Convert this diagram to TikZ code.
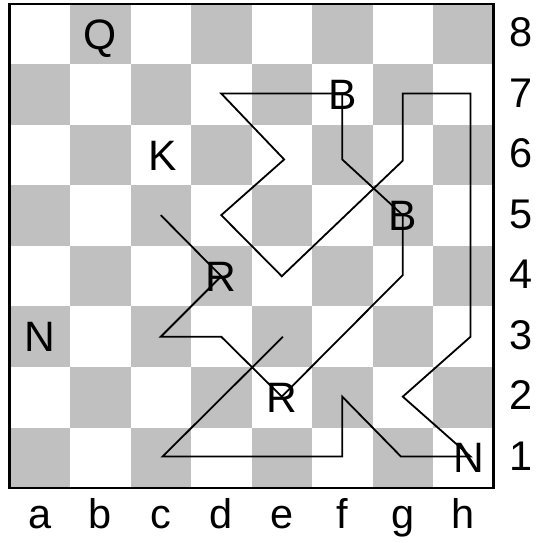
\documentclass[tikz,border=0pt]{standalone}
\usepackage{fontspec}
\setmainfont{Liberation Sans}
\usetikzlibrary{positioning}
\definecolor{boardgray}{RGB}{192,192,192}
\tikzset{
  darksq/.style={fill=boardgray},
  piece/.style={anchor=base, inner sep=0pt, yshift=-0.25cm,
                font=\fontsize{20}{20}\selectfont},
  boardlabel/.style={anchor=base, inner sep=0pt,
                font=\fontsize{19.5}{19.5}\selectfont},
  tour/.style={line width=0.85pt, color=black, line join=miter},
  frame/.style={line width=1.2pt, color=black},
}

\begin{document}
\begin{tikzpicture}
        \useasboundingbox (-0.157,-0.909) rectangle (8.711,8.066);
        % Squares
        \foreach \i in {0,...,7} {
          \foreach \j in {0,...,7} {
            \pgfmathparse{int(mod(\i+\j,2))}
            \ifnum\pgfmathresult=0
              \fill[darksq] (\i,\j) rectangle ++(1,1);
            \fi
          }
        }
        \draw[frame] (0,0) rectangle (8,8);
        
        % Labels
        \foreach \f [count=\n from 0] in {a,b,c,d,e,f,g,h}
          \node[boardlabel] (file\f) at (\n+0.5,-0.67) {\f};
        \foreach \r in {1,...,8}
          \node[boardlabel] (rank\r) at (8.46,\r-0.5-0.21) {\r};
        
        % Waypoints
        \coordinate (c5) at (2.5,4.51);
        \coordinate (d4) at (3.5,3.5);
        \coordinate (c3) at (2.5,2.5);
        \coordinate (d3) at (3.5,2.5);
        \coordinate (e2) at (4.5,1.51);
        \coordinate (g4) at (6.5,3.52);
        \coordinate (g5) at (6.5,4.51);
        \coordinate (f6) at (5.5,5.43);
        \coordinate (f7) at (5.5,6.52);
        \coordinate (d7) at (3.5,6.52);
        \coordinate (e6) at (4.54,5.43);
        \coordinate (d5) at (3.5,4.51);
        \coordinate (e4) at (4.5,3.5);
        \coordinate (g6) at (6.5,5.41);
        \coordinate (g7) at (6.5,6.52);
        \coordinate (h7) at (7.62,6.52);
        \coordinate (h3) at (7.62,2.5);
        \coordinate (g2) at (6.5,1.51);
        \coordinate (h1) at (7.62,0.52);
        \coordinate (g1) at (6.47,0.52);
        \coordinate (f2) at (5.5,1.51);
        \coordinate (f1) at (5.5,0.52);
        \coordinate (c1) at (2.53,0.52);
        \coordinate (e3) at (4.52,2.5);
        
        % Pieces
        \node[piece] (Qb8) at (1.5,7.5) {Q};
        \node[piece] (Kc6) at (2.53,5.5) {K};
        \node[piece] (Bf7) at (5.5,6.5) {B};
        \node[piece] (Bg5) at (6.5,4.5) {B};
        \node[piece] (Rd4) at (3.5,3.5) {R};
        \node[piece] (Na3) at (0.5,2.5) {N};
        \node[piece] (Re2) at (4.5,1.5) {R};
        \node[piece] (Nh1) at (7.6,0.5) {N};
        
        % Tour
        \draw[tour] (c5) -- (d4) -- (c3) -- (d3) -- (e2) -- (g4) -- (g5)
          -- (f6) -- (f7) -- (d7) -- (e6) -- (d5) -- (e4) -- (g6) -- (g7)
          -- (h7) -- (h3) -- (g2) -- (h1) -- (g1) -- (f2) -- (f1) -- (c1)
          -- (e3);
      \end{tikzpicture}
\end{document}
